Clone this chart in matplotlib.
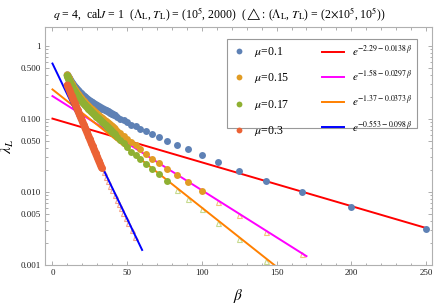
import matplotlib
matplotlib.use('Agg')
import matplotlib.pyplot as plt
from matplotlib.lines import Line2D
from matplotlib.patches import Rectangle
import numpy as np

plt.rcParams['font.family'] = ['Liberation Serif', 'DejaVu Serif']
plt.rcParams['mathtext.fontset'] = 'stix'

# mu = 0.1 (Lambda_L, T_L) = (1e5, 2000)
beta_mu01 = [10, 11, 12, 13, 14, 15, 16, 17, 18, 19, 20, 21, 22, 23, 24, 25, 26.3, 27.8,
             29.4, 31.3, 33.3, 35.7, 37, 38.5, 40, 41.7, 43.5, 45.5, 47.6, 50, 52.6, 55.6,
             58.8, 62.5, 66.7, 71.4, 76.9, 83.3, 90.9, 100, 111.1, 125, 142.9, 166.7, 200, 250]
lam_mu01 = [0.40, 0.37, 0.34, 0.315, 0.295, 0.277, 0.262, 0.248, 0.236, 0.225, 0.215, 0.206,
            0.198, 0.190, 0.183, 0.177, 0.170, 0.162, 0.155, 0.147, 0.139, 0.131, 0.127, 0.122,
            0.117, 0.112, 0.107, 0.101, 0.096, 0.090, 0.084, 0.079, 0.074, 0.068, 0.062, 0.057,
            0.050, 0.0445, 0.0384, 0.0318, 0.0255, 0.0194, 0.0141, 0.0099, 0.0062, 0.0031]

# mu = 0.15
beta_mu015 = [10, 11, 12, 13, 14, 15, 16, 17, 18, 19, 20, 21, 22, 23, 24, 25, 26.3, 27.8,
              29.4, 31.3, 33.3, 35.7, 37, 38.5, 40, 41.7, 43.5, 45.5, 47.6, 50, 52.6, 55.6,
              58.8, 62.5, 66.7, 71.4, 76.9, 83.3, 90.9, 100]
lam_mu015 = [0.40, 0.36, 0.325, 0.297, 0.273, 0.253, 0.236, 0.221, 0.207, 0.195, 0.184, 0.174,
             0.165, 0.157, 0.150, 0.143, 0.135, 0.127, 0.119, 0.110, 0.102, 0.093, 0.089, 0.084,
             0.079, 0.074, 0.069, 0.064, 0.059, 0.054, 0.049, 0.044, 0.0385, 0.0335, 0.0286,
             0.0247, 0.0208, 0.0172, 0.0137, 0.0103]

# mu = 0.17
beta_mu017 = [10, 11, 12, 13, 14, 15, 16, 17, 18, 19, 20, 21, 22, 23, 24, 25, 26.3, 27.8,
              29.4, 31.3, 33.3, 35.7, 37, 38.5, 40, 41.7, 43.5, 45.5, 47.6, 50, 52.6, 55.6,
              58.8, 62.5, 66.7, 71.4, 76.9]
lam_mu017 = [0.39, 0.345, 0.31, 0.28, 0.257, 0.237, 0.22, 0.205, 0.192, 0.181, 0.171, 0.162,
             0.154, 0.146, 0.139, 0.132, 0.124, 0.116, 0.108, 0.100, 0.091, 0.082, 0.077, 0.072,
             0.067, 0.062, 0.057, 0.052, 0.0465, 0.041, 0.0357, 0.0321, 0.028, 0.0244, 0.0208,
             0.0175, 0.0141]

# mu = 0.3
beta_mu03 = [10, 11, 12, 13, 14, 15, 16, 17, 18, 19, 20, 21, 22, 23, 24, 25, 26, 27, 28, 29,
             30, 31, 32, 33]
lam_mu03 = [0.290, 0.259, 0.231, 0.206, 0.184, 0.164, 0.147, 0.131, 0.117, 0.104, 0.0934,
            0.0834, 0.0745, 0.0665, 0.0594, 0.0530, 0.0473, 0.0423, 0.0377, 0.0337, 0.0301,
            0.0268, 0.0240, 0.0214]

# where the points of each series overlap into a solid band
band_end = [42, 42, 42, 33]

# triangles: (Lambda_L, T_L) = (2e5, 1e5)
tri_beta_mu015 = [111.1, 125, 142.9, 166.7]
tri_lam_mu015 = [0.0074, 0.0048, 0.0028, 0.0014]
tri_beta_mu017 = [83.3, 90.9, 100, 111.1, 125, 142.9]
tri_lam_mu017 = [0.0107, 0.0080, 0.0058, 0.0038, 0.0023, 0.00114]
tri_beta_mu03 = [34.3, 35.7, 37.1, 38.6, 40.0, 41.6, 43.2, 44.6, 45.9, 47.5, 49.0, 50.5, 52.9, 55.0]
tri_lam_mu03 = [0.0185, 0.0162, 0.0142, 0.0122, 0.0106, 0.0091, 0.0078, 0.0068, 0.0060,
                0.0051, 0.0044, 0.0038, 0.0030, 0.00245]

# fits exp(a + b*beta)
fit_a = [-2.29, -1.58, -1.37, -0.553]
fit_b = [-0.0138, -0.0297, -0.0373, -0.098]
fit_end = [250, 170, 150, 60]
fit_colors = ['#FF0000', '#FF00FF', '#FF8000', '#0000FF']
fit_labels = [r'$e^{-2.29-0.0138\,\beta}$', r'$e^{-1.58-0.0297\,\beta}$',
              r'$e^{-1.37-0.0373\,\beta}$', r'$e^{-0.553-0.098\,\beta}$']

dot_colors = ['#5E81B5', '#E19C24', '#8FB032', '#EB6235']
tri_colors = ['#F3C57A', '#C6DA8E', '#F4A48A']
mu_labels = [r'$\mu$=0.1', r'$\mu$=0.15', r'$\mu$=0.17', r'$\mu$=0.3']

fig, ax = plt.subplots(figsize=(4.36, 3.08), dpi=100)
fig.subplots_adjust(left=0.1032, right=0.9908, top=0.9123, bottom=0.1396)

for tb, tl, c in zip([tri_beta_mu015, tri_beta_mu017, tri_beta_mu03],
                     [tri_lam_mu015, tri_lam_mu017, tri_lam_mu03], tri_colors):
    ax.plot(tb, tl, '^', ms=3.6, mfc='none', mec=c, mew=0.8, ls='none', zorder=1)

for a, b, e, c in zip(fit_a, fit_b, fit_end, fit_colors):
    x = np.linspace(0, e, 300)
    ax.plot(x, np.exp(a + b * x), color=c, lw=1.4, zorder=2)

for bx, ly, c, be in zip([beta_mu01, beta_mu015, beta_mu017, beta_mu03],
                         [lam_mu01, lam_mu015, lam_mu017, lam_mu03], dot_colors, band_end):
    n = sum(1 for v in bx if v <= be)
    ax.plot(bx[:n], ly[:n], color=c, lw=5.4, solid_capstyle='round', zorder=3)
    ax.plot(bx, ly, 'o', color=c, ms=5.0, mew=0, ls='none', zorder=3)

ax.set_yscale('log')
ax.set_xlim(-5, 254)
ax.set_ylim(0.001, 1.82)

yt = [0.001, 0.005, 0.01, 0.05, 0.1, 0.5, 1]
ax.set_yticks(yt)
ax.set_yticklabels(['0.001', '0.005', '0.010', '0.050', '0.100', '0.500', '1'])
ax.set_yticks([k * 10.0 ** p for p in (-3, -2, -1) for k in range(2, 10) if k != 5], minor=True)
ax.set_xticks([0, 50, 100, 150, 200, 250])
ax.set_xticks([v for v in range(10, 250, 10) if v % 50], minor=True)

ax.tick_params(which='both', direction='in', top=True, right=True, color='#A0A0A0',
               labelcolor='#202020', labelsize=6.5, width=0.6, pad=3)
ax.tick_params(which='major', length=3.2)
ax.tick_params(which='minor', length=1.8)
for s in ax.spines.values():
    s.set_color('#B0B0B0')
    s.set_linewidth(0.8)

ax.set_xlabel(r'$\beta$', fontsize=11, labelpad=7)
ax.set_ylabel(r'$\lambda_L$', fontsize=11, labelpad=3)

fig.text(0.503, 0.953,
         r'$q$ = 4,  cal$J$ = 1  ($\Lambda_{\rm L}$, $T_{\rm L}$) = (10$^5$, 2000)  '
         r'($\triangle$: ($\Lambda_{\rm L}$, $T_{\rm L}$) = (2$\times$10$^5$, 10$^5$))',
         ha='center', va='center', fontsize=8.5)

# legend: two columns in a shared frame
ax.add_patch(Rectangle((0.470, 0.574), 0.491, 0.376, transform=ax.transAxes,
                       fill=True, fc='white', ec='#999999', lw=0.8, zorder=4))
dot_handles = [Line2D([], [], marker='o', color=c, ms=4.2, mew=0, ls='none') for c in dot_colors]
leg1 = ax.legend(dot_handles, mu_labels, loc='upper left', bbox_to_anchor=(0.486, 0.925),
                 frameon=False, fontsize=8.5, handlelength=1.0, handletextpad=0.8,
                 labelspacing=1.05, borderpad=0, borderaxespad=0)
leg1.set_zorder(5)
ax.add_artist(leg1)
line_handles = [Line2D([], [], color=c, lw=1.4) for c in fit_colors]
leg2 = ax.legend(line_handles, fit_labels, loc='upper left', bbox_to_anchor=(0.715, 0.930),
                 frameon=False, fontsize=8, handlelength=2.0, handletextpad=0.7,
                 labelspacing=0.95, borderpad=0, borderaxespad=0)
leg2.set_zorder(5)

fig.savefig('out.png', dpi=100)
